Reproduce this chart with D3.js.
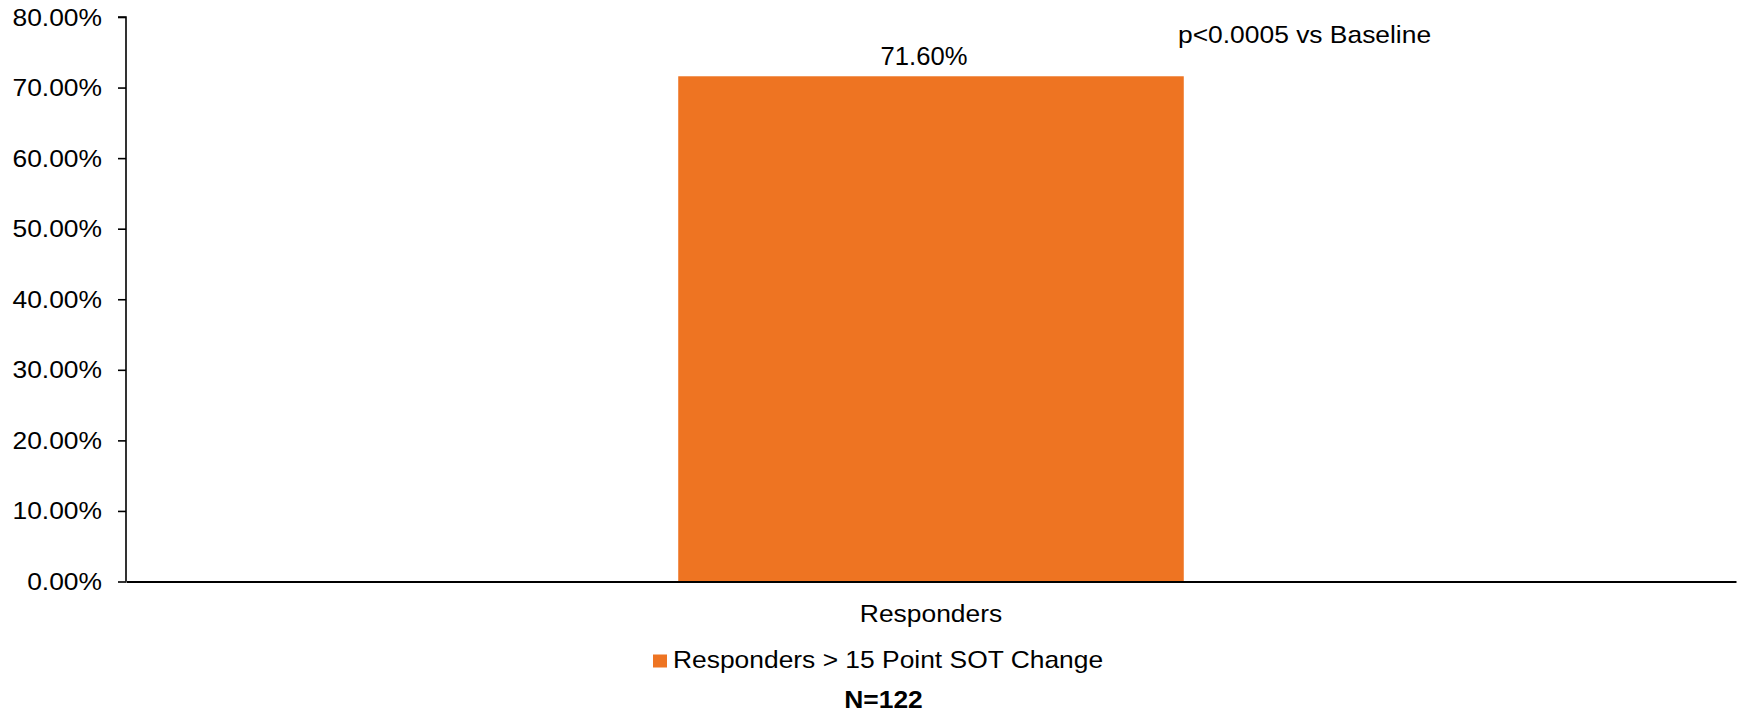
<!DOCTYPE html>
<html><head><meta charset="utf-8">
<script src="https://cdn.jsdelivr.net/npm/d3@7"></script>
<style>body{margin:0;background:#fff;} svg{display:block;} text{font-family:"Liberation Sans",Arial,sans-serif;fill:#000;}</style>
</head><body>
<svg id="c" width="1739" height="714"></svg>
<script>
const categories = ["Responders"];
const seriesName = "Responders > 15 Point SOT Change";
const values = [0.716];
const valueLabels = ["71.60%"];
const yTicks = [0, 0.1, 0.2, 0.3, 0.4, 0.5, 0.6, 0.7, 0.8];
const annotation = "p<0.0005 vs Baseline";
const footnote = "N=122";

const svg = d3.select("#c");
const x = d3.scaleBand().domain(categories).range([126, 1736]).paddingInner(0.686).paddingOuter(0.343);
const y = d3.scaleLinear().domain([0, 0.8]).range([581.5, 17]);
const orange = "#EE7422";
const SX = 1.1;

function txt(px, py, s, opts) {
  opts = opts || {};
  return svg.append("text")
    .attr("transform", `translate(${px},${py}) scale(${opts.sx || SX},1)`)
    .attr("text-anchor", opts.anchor || "start")
    .attr("font-size", opts.size || 24)
    .attr("font-weight", opts.weight || "normal")
    .text(s);
}

// bars
svg.selectAll("rect.bar").data(values).enter().append("rect")
  .attr("class", "bar")
  .attr("x", (d, i) => x(categories[i]))
  .attr("width", x.bandwidth())
  .attr("y", d => y(d))
  .attr("height", d => y(0) - y(d))
  .attr("fill", orange);

// y axis
const yAxis = d3.axisLeft(y).tickValues(yTicks).tickSize(8).tickFormat(d3.format(".2%"));
const gy = svg.append("g").attr("transform", "translate(126,0)").call(yAxis);
gy.select(".domain").attr("stroke", "#000").attr("stroke-width", 1.6).attr("d", `M-8,${y(0.8)}H0V${y(0)}`);
gy.selectAll(".tick line").attr("stroke", "#000").attr("stroke-width", 1.6);
gy.selectAll(".tick text").remove();
yTicks.forEach(t => txt(102, y(t) + 8.5, d3.format(".2%")(t), {anchor: "end"}));

// x axis
const xAxis = d3.axisBottom(x).tickSize(0).tickFormat("");
const gx = svg.append("g").attr("transform", `translate(0,${y(0)})`).call(xAxis);
gx.select(".domain").attr("stroke", "#000").attr("stroke-width", 1.8);
categories.forEach(c => txt(x(c) + x.bandwidth() / 2, 622, c, {anchor: "middle"}));

// value labels
values.forEach((v, i) => txt(x(categories[i]) + x.bandwidth() / 2 - 7, y(v) - 11.5, valueLabels[i], {anchor: "middle", size: 25.6, sx: 1}));

// annotation
txt(1178, 42.5, annotation);

// legend
svg.append("rect").attr("x", 653).attr("y", 654.5).attr("width", 14).attr("height", 13).attr("fill", orange);
txt(673, 668, seriesName);

// footnote
txt(883.5, 708, footnote, {anchor: "middle", weight: "bold"});
</script>
</body></html>
